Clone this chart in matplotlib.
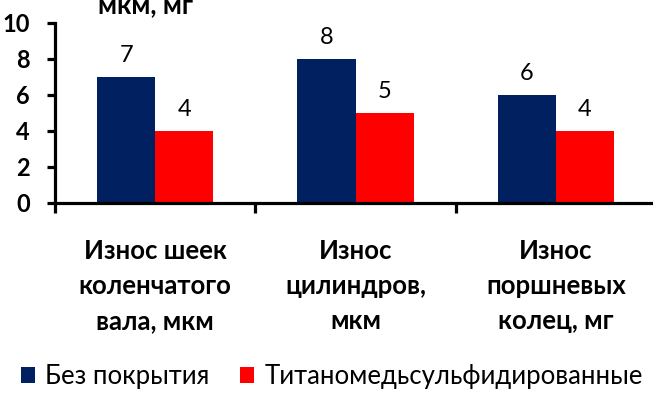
import matplotlib
matplotlib.use("Agg")
import matplotlib.pyplot as plt
import numpy as np

plt.rcParams['font.family'] = ['Lato', 'DejaVu Sans']

# chart data
categories = ["Износ шеек\nколенчатого\nвала, мкм",
              "Износ\nцилиндров,\nмкм",
              "Износ\nпоршневых\nколец, мг"]
series_names = ["Без покрытия", "Титаномедьсульфидированные"]
no_coating = [7, 8, 6]
coated = [4, 5, 4]
colors = ["#002060", "#FF0000"]

fig = plt.figure(figsize=(6.53, 3.94), dpi=100)
ax = fig.add_axes([55 / 653, 191 / 394, 601 / 653, 180 / 394])

x = np.arange(len(categories))
w = 0.29
b1 = ax.bar(x - w / 2, no_coating, w, color=colors[0], label=series_names[0])
b2 = ax.bar(x + w / 2, coated, w, color=colors[1], label=series_names[1])

# value labels above bars
for bars in (b1, b2):
    for r in bars:
        ax.annotate(str(int(r.get_height())),
                    (r.get_x() + r.get_width() / 2, r.get_height()),
                    xytext=(0, 8), textcoords="offset points",
                    ha="center", va="bottom", fontsize=17)

ax.set_xlim(-0.5, 2.5)
ax.set_ylim(0, 10)
ax.set_yticks(range(0, 11, 2))
ax.set_xticks([-0.5, 0.5, 1.5, 2.5])
ax.set_xticklabels([])
for sp in ("top", "right"):
    ax.spines[sp].set_visible(False)
for sp in ("left", "bottom"):
    ax.spines[sp].set_linewidth(2.3)
ax.tick_params(axis="y", width=2.3, length=6, labelsize=17, pad=12)
ax.tick_params(axis="x", width=2.3, length=7)
for t in ax.get_yticklabels():
    t.set_fontweight("bold")

# category labels under the axis
for xi, lab in zip(x, categories):
    ax.annotate(lab, (xi, 0), xytext=(0, -26), textcoords="offset points",
                ha="center", va="top", fontsize=18.5, fontweight="bold",
                linespacing=1.55)

# axis title, cropped at the top like the original
fig.text(145 / 653, 1 - 13 / 394, "мкм, мг", ha="center", va="baseline",
         fontsize=19, fontweight="bold")

fig.legend(loc="lower left", bbox_to_anchor=(0.0, -0.04), ncol=2,
           frameon=False, fontsize=18.5, handlelength=0.55, handleheight=0.6,
           handletextpad=0.4, columnspacing=1.2, borderpad=0.3)

fig.savefig("out.png", dpi=100)
